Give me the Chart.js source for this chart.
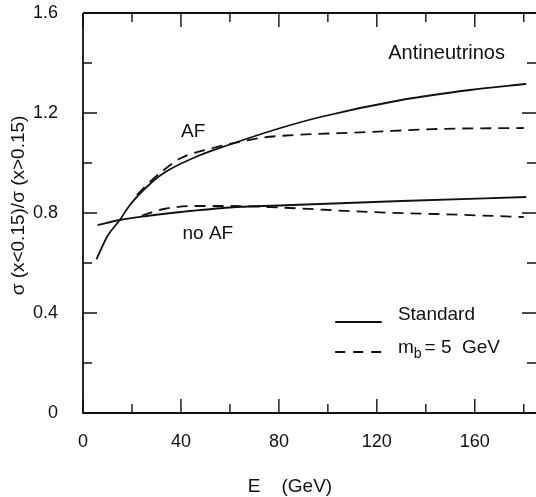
<!DOCTYPE html>
<html>
<head>
<meta charset="utf-8">
<script src="https://cdn.jsdelivr.net/npm/chart.js@4/dist/chart.umd.min.js"></script>
<style>
  html, body { margin: 0; padding: 0; background: #fff; overflow: hidden; }
  #wrap { width: 536px; height: 497px; position: relative; }
</style>
</head>
<body>
<div id="wrap"><canvas id="ratioChart"></canvas></div>
<script>
// energies (GeV) and cross-section ratios for each curve
const afStdE = [5.5, 10, 15, 19, 26, 33, 46, 60, 80, 97, 130, 158, 181];
const afStdR = [0.615, 0.708, 0.772, 0.83, 0.904, 0.96, 1.024, 1.074, 1.138, 1.184, 1.252, 1.292, 1.316];

const afMbE = [22, 26, 33, 40, 53, 60, 72, 80, 117, 145, 180];
const afMbR = [0.872, 0.912, 0.972, 1.02, 1.06, 1.076, 1.1, 1.108, 1.124, 1.136, 1.14];

const noStdE = [6, 15, 26, 40, 60, 80, 130, 181];
const noStdR = [0.752, 0.772, 0.788, 0.804, 0.822, 0.83, 0.848, 0.864];

const noMbE = [24, 33, 46, 60, 80, 117, 144, 180];
const noMbR = [0.79, 0.816, 0.828, 0.828, 0.822, 0.804, 0.796, 0.784];

const xLabelTicks = [0, 40, 80, 120, 160];
const yLabelTicks = ['0', '0.4', '0.8', '1.2', '1.6'];

const INK = '#111';
const FONT = '"Liberation Sans", Arial, sans-serif';
const DASH = [11, 7];

function pts(xs, ys) {
  return xs.map((x, i) => ({ x: x, y: ys[i] }));
}

function curve(label, xs, ys, dashed) {
  return {
    label: label,
    data: pts(xs, ys),
    borderColor: INK,
    borderWidth: 1.8,
    borderDash: dashed ? DASH : [],
    pointRadius: 0,
    fill: false,
    cubicInterpolationMode: 'monotone'
  };
}

// keep tick labels from pushing the plot area inwards
function noOverhang(scale) {
  scale.paddingTop = 0;
  scale.paddingBottom = 0;
  scale.paddingLeft = 0;
  scale.paddingRight = 0;
}

// frame, inward ticks, annotations and the legend key
const framePlugin = {
  id: 'frame',
  afterDraw(chart) {
    const ctx = chart.ctx;
    const a = chart.chartArea;
    const xs = chart.scales.x;
    const ys = chart.scales.y;
    ctx.save();
    ctx.strokeStyle = INK;
    ctx.fillStyle = INK;
    ctx.lineWidth = 1.8;

    ctx.beginPath();
    ctx.moveTo(a.left, a.top);
    ctx.lineTo(a.right, a.top);
    ctx.moveTo(a.left, a.top);
    ctx.lineTo(a.left, a.bottom);
    ctx.lineTo(a.right, a.bottom);
    ctx.stroke();

    ctx.lineWidth = 1.4;
    ctx.beginPath();
    for (let v = 0; v <= 180; v += 20) {
      const px = xs.getPixelForValue(v);
      const len = v % 40 === 0 ? 14 : 9;
      ctx.moveTo(px, a.bottom);
      ctx.lineTo(px, a.bottom - len);
      ctx.moveTo(px, a.top);
      ctx.lineTo(px, a.top + len);
    }
    for (let k = 1; k <= 7; k++) {
      const py = ys.getPixelForValue(k * 0.2);
      const len = k % 2 === 0 ? 14 : 9;
      ctx.moveTo(a.left, py);
      ctx.lineTo(a.left + len, py);
      ctx.moveTo(a.right, py);
      ctx.lineTo(a.right - len, py);
    }
    ctx.stroke();

    ctx.font = '20px ' + FONT;
    ctx.textAlign = 'center';
    ctx.textBaseline = 'middle';
    ctx.fillText('Antineutrinos', xs.getPixelForValue(148.5), ys.getPixelForValue(1.44));
    ctx.font = '19px ' + FONT;
    ctx.fillText('AF', xs.getPixelForValue(45), ys.getPixelForValue(1.124));
    ctx.fillText('no AF', xs.getPixelForValue(51), ys.getPixelForValue(0.715));

    // legend key
    const kx0 = xs.getPixelForValue(103);
    const kx1 = xs.getPixelForValue(122);
    const ky0 = ys.getPixelForValue(0.364);
    const ky1 = ys.getPixelForValue(0.244);
    ctx.lineWidth = 1.8;
    ctx.beginPath();
    ctx.moveTo(kx0, ky0);
    ctx.lineTo(kx1, ky0);
    ctx.stroke();
    ctx.setLineDash([10, 8]);
    ctx.beginPath();
    ctx.moveTo(kx0, ky1);
    ctx.lineTo(kx1, ky1);
    ctx.stroke();
    ctx.setLineDash([]);

    const tx = xs.getPixelForValue(128.6);
    ctx.textAlign = 'left';
    ctx.textBaseline = 'alphabetic';
    ctx.font = '19px ' + FONT;
    ctx.fillText('Standard', tx, ky0 - 2);
    let cx = tx;
    ctx.fillText('m', cx, ky1 + 1);
    cx += ctx.measureText('m').width;
    ctx.font = '14px ' + FONT;
    ctx.fillText('b', cx, ky1 + 6);
    cx += ctx.measureText('b').width + 3;
    ctx.font = '19px ' + FONT;
    ctx.fillText('= 5  GeV', cx, ky1 + 1);

    // axis titles
    ctx.textAlign = 'center';
    ctx.textBaseline = 'middle';
    ctx.fillText('E    (GeV)', xs.getPixelForValue(84.5), 487);
    ctx.translate(19, ys.getPixelForValue(0.83));
    ctx.rotate(-Math.PI / 2);
    ctx.fillText('\u03c3 (x<0.15)/\u03c3 (x>0.15)', 0, 0);
    ctx.restore();
  }
};

new Chart(document.getElementById('ratioChart'), {
  type: 'line',
  data: {
    datasets: [
      curve('AF Standard', afStdE, afStdR, false),
      curve('AF m_b = 5 GeV', afMbE, afMbR, true),
      curve('no AF Standard', noStdE, noStdR, false),
      curve('no AF m_b = 5 GeV', noMbE, noMbR, true)
    ]
  },
  options: {
    responsive: true,
    maintainAspectRatio: false,
    animation: false,
    layout: { padding: { top: 13, right: 0, left: 0, bottom: 0 } },
    plugins: {
      legend: { display: false },
      tooltip: { enabled: false }
    },
    scales: {
      x: {
        type: 'linear',
        min: 0,
        max: 185,
        grid: { display: false },
        border: { display: false },
        afterFit(scale) { scale.height = 84; noOverhang(scale); },
        ticks: {
          stepSize: 20,
          autoSkip: false,
          maxRotation: 0,
          padding: 10,
          color: INK,
          font: { family: FONT, size: 18 },
          callback: v => xLabelTicks.includes(v) ? String(v) : ''
        }
      },
      y: {
        min: 0,
        max: 1.6,
        grid: { display: false },
        border: { display: false },
        afterFit(scale) { scale.width = 83; noOverhang(scale); },
        ticks: {
          stepSize: 0.2,
          autoSkip: false,
          padding: 17,
          color: INK,
          font: { family: FONT, size: 18 },
          callback: v => {
            const k = Math.round(v * 5);
            return k % 2 === 0 ? yLabelTicks[k / 2] : '';
          }
        }
      }
    }
  },
  plugins: [framePlugin]
});
</script>
</body>
</html>
